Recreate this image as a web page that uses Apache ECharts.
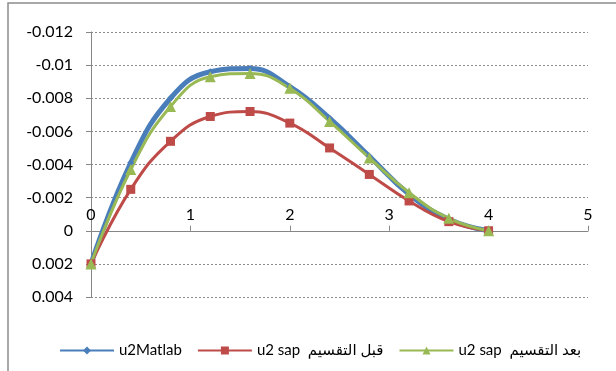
<!DOCTYPE html>
<html>
<head>
<meta charset="utf-8">
<script src="https://cdn.jsdelivr.net/npm/echarts@6/dist/echarts.min.js"></script>
<style>
  html, body { margin: 0; padding: 0; background: #fff; }
  #chart { width: 616px; height: 371px; }
</style>
</head>
<body>
<div id="chart"></div>
<script>
// Positions along the member (x) and the u2 displacement for each method
const xValues = [0, 0.4, 0.8, 1.2, 1.6, 2.0, 2.4, 2.8, 3.2, 3.6, 4.0];
const u2Matlab = [0.002, -0.0041, -0.0080, -0.0096, -0.0098, -0.0087, -0.0068, -0.0045, -0.0022, -0.0007, 0];
const u2SapBefore = [0.002, -0.0025, -0.0054, -0.0069, -0.0072, -0.0065, -0.0050, -0.0034, -0.0018, -0.00055, 0];
const u2SapAfter = [0.002, -0.0037, -0.0075, -0.0093, -0.0095, -0.0086, -0.0066, -0.0044, -0.0023, -0.00075, 0];
const seriesNames = ['u2Matlab', 'u2 sap  قبل التقسيم', 'u2 sap  بعد التقسيم'];
const yTickLabels = {
  '-0.012': '-0.012', '-0.01': '-0.01', '-0.008': '-0.008', '-0.006': '-0.006',
  '-0.004': '-0.004', '-0.002': '-0.002', '0': '0', '0.002': '0.002', '0.004': '0.004'
};
const yMin = -0.012, yMax = 0.004;

const pairs = ys => xValues.map((x, i) => [x, ys[i]]);
const FONT = 'Lato, "DejaVu Sans", sans-serif';

const gridTop = 32, gridBottom = 74, height = 371;
const plotH = height - gridTop - gridBottom;
// the x axis crosses the (inverted) y axis at zero
const zeroOffset = plotH * (0 - yMin) / (yMax - yMin);

const chart = echarts.init(document.getElementById('chart'), null, { renderer: 'canvas' });
chart.setOption({
  animation: false,
  backgroundColor: '#fff',
  graphic: [{
    type: 'rect',
    shape: { x: 8, y: 3, width: 640, height: 400 },
    style: { fill: 'none', stroke: '#8c8c8c', lineWidth: 1.5 },
    silent: true
  }],
  grid: { left: 91, right: 28, top: gridTop, bottom: gridBottom, containLabel: false },
  legend: {
    left: 54, top: 338,
    itemWidth: 54, itemHeight: 10, itemGap: 15,
    textStyle: { fontFamily: FONT, fontSize: 15, color: '#000' },
    data: seriesNames
  },
  xAxis: {
    type: 'value', min: 0, max: 5, interval: 1,
    position: 'top',
    offset: -zeroOffset,
    axisLine: { onZero: false, lineStyle: { color: '#868686', width: 1 } },
    axisTick: { show: true, length: 5, lineStyle: { color: '#868686' } },
    axisLabel: { fontFamily: FONT, fontSize: 16, color: '#000', margin: 8 },
    splitLine: { show: false }
  },
  yAxis: {
    type: 'value', min: yMin, max: yMax, interval: 0.002, inverse: true,
    axisLine: { show: true, onZero: false, lineStyle: { color: '#868686', width: 1 } },
    axisTick: { show: true, length: 5, lineStyle: { color: '#868686' } },
    axisLabel: {
      fontFamily: FONT, fontSize: 16, color: '#000', margin: 18,
      formatter: v => yTickLabels[String(+v.toFixed(3))] ?? String(v)
    },
    splitLine: { show: true, lineStyle: { color: '#8c8c8c', type: [2, 2], width: 1 } }
  },
  series: [
    {
      name: seriesNames[0], type: 'line', smooth: 0.45,
      data: pairs(u2Matlab),
      symbol: 'diamond', symbolSize: 7,
      lineStyle: { color: '#4a7ebb', width: 5 },
      itemStyle: { color: '#4a7ebb' }
    },
    {
      name: seriesNames[1], type: 'line', smooth: 0.45,
      data: pairs(u2SapBefore),
      symbol: 'rect', symbolSize: 9,
      lineStyle: { color: '#be4b48', width: 3 },
      itemStyle: { color: '#be4b48' }
    },
    {
      name: seriesNames[2], type: 'line', smooth: 0.45,
      data: pairs(u2SapAfter),
      symbol: 'triangle', symbolSize: 11,
      lineStyle: { color: '#98b954', width: 3 },
      itemStyle: { color: '#98b954' }
    }
  ]
});
</script>
</body>
</html>
